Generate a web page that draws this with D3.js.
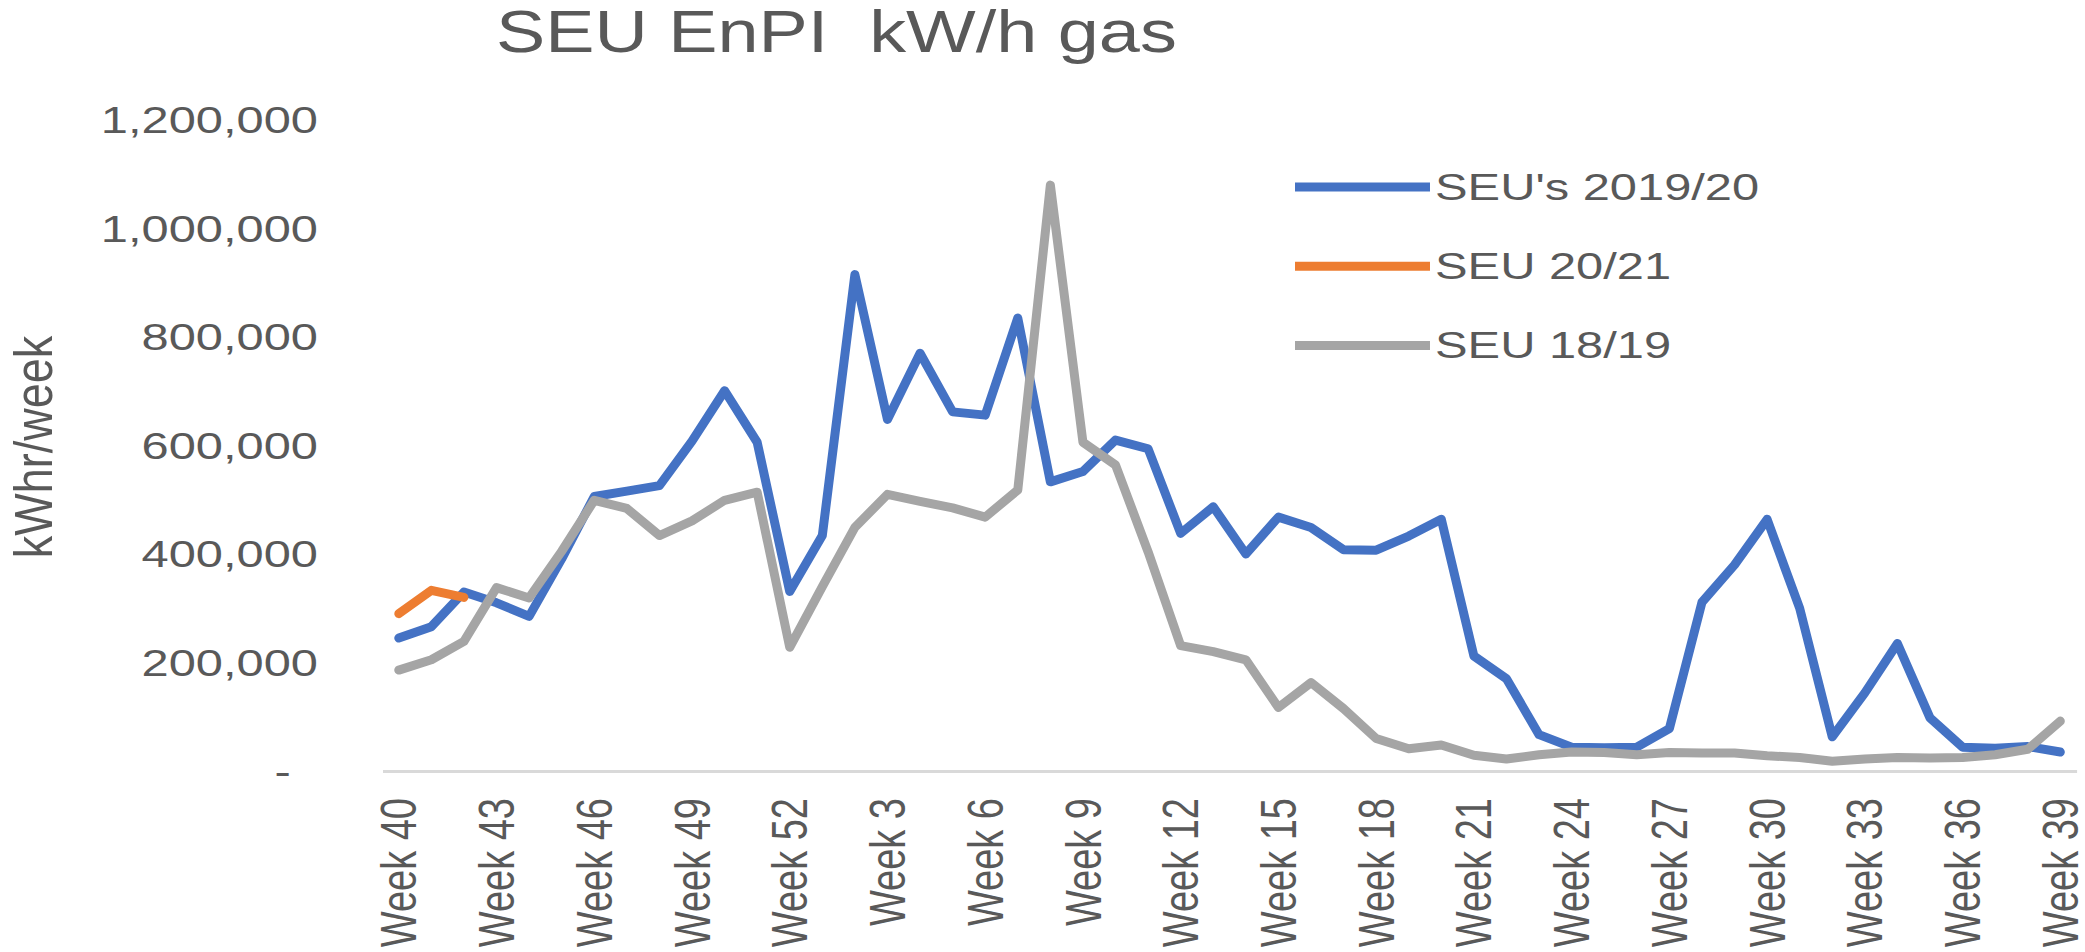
<!DOCTYPE html>
<html><head><meta charset="utf-8">
<script src="https://cdn.jsdelivr.net/npm/d3@7"></script>
<style>html,body{margin:0;padding:0;background:#fff;overflow:hidden}</style>
</head><body>
<svg id="chart" width="2085" height="952"></svg>
<script>
// ---- data ----
const weeks = [40,41,42,43,44,45,46,47,48,49,50,51,52,
  1,2,3,4,5,6,7,8,9,10,11,12,13,14,15,16,17,18,19,20,21,22,23,24,25,26,27,28,29,30,31,32,33,34,35,36,37,38,39];
const categories = weeks.map(w => "Week " + w);
const tickLabels = ["Week 40","Week 43","Week 46","Week 49","Week 52","Week 3","Week 6","Week 9","Week 12",
  "Week 15","Week 18","Week 21","Week 24","Week 27","Week 30","Week 33","Week 36","Week 39"];
const seu1920 = [245000,266000,330000,310000,285000,391000,506000,516000,526000,608000,701000,606000,331000,
  434000,915000,648000,770000,662000,656000,835000,533000,552000,610000,594000,438000,487000,400000,468000,
  449000,408000,407000,433000,464000,212000,170000,67000,44000,43000,44000,78000,311000,380000,464000,300000,
  63000,144000,235000,98000,44000,42000,45000,35000];
const seu2021 = [290000,333000,320000];
const seu1819 = [186000,205000,239000,338000,319000,405000,499000,484000,434000,461000,499000,514000,228000,
  340000,449000,510000,497000,485000,468000,518000,1080000,606000,564000,404000,231000,220000,205000,117000,
  163000,115000,60000,41000,48000,29000,22000,30000,35000,34000,30000,34000,33000,33000,28000,25000,18000,
  22000,25000,24000,25000,30000,40000,92000];
const yTicks = [0,200000,400000,600000,800000,1000000,1200000];
const seriesNames = ["SEU's 2019/20","SEU 20/21","SEU 18/19"];
const seriesColors = ["#4472C4","#ED7D31","#A5A5A5"];
const chartTitle = "SEU EnPI  kW/h gas";
const yTitle = "kWhr/week";

// ---- layout ----
const FONT = "'Liberation Sans', Arial, sans-serif";
const TXT = "#595959";
const SX = 1.32;           // horizontal stretch of the reference's text
const svg = d3.select("#chart");

const x = d3.scaleBand().domain(categories).range([382.5, 2076.6]).padding(0);
const cx = c => x(c) + x.bandwidth() / 2;
const y = d3.scaleLinear().domain([0, 1200000]).range([771, 120]);

// title
svg.append("text")
  .attr("transform", `translate(496,52) scale(1.23,1)`)
  .attr("font-family", FONT).attr("font-size", 60).attr("fill", TXT)
  .attr("xml:space", "preserve")
  .style("white-space", "pre")
  .text(chartTitle);

// y axis title
svg.append("text")
  .attr("transform", `translate(33,447) scale(1.2,1) rotate(-90)`)
  .attr("text-anchor", "middle").attr("dy", "0.35em")
  .attr("font-family", FONT).attr("font-size", 45).attr("fill", TXT)
  .text(yTitle);

// y axis
const fmt = d3.format(",");
const yAxis = svg.append("g").attr("transform", "translate(318,0)")
  .call(d3.axisLeft(y).tickValues(yTicks).tickSize(0).tickPadding(0)
    .tickFormat(d => d === 0 ? "-\u00a0\u00a0" : fmt(d)));
yAxis.select(".domain").remove();
yAxis.selectAll("text")
  .attr("x", 0).attr("dy", "0.35em")
  .attr("transform", `scale(${SX},1)`)
  .attr("font-family", FONT).attr("font-size", 37).attr("fill", TXT);

// x axis
const xAxis = svg.append("g").attr("transform", "translate(0,771)")
  .call(d3.axisBottom(x).tickValues(tickLabels).tickSize(0).tickSizeOuter(0));
xAxis.select(".domain").attr("stroke", "#D9D9D9").attr("stroke-width", 3);
xAxis.selectAll("text")
  .attr("x", 0).attr("y", 0).attr("dy", "0.35em")
  .attr("text-anchor", "end")
  .attr("transform", `translate(0,27) scale(${SX},1) rotate(-90)`)
  .attr("font-family", FONT).attr("font-size", 38).attr("fill", TXT);

// lines
const seriesData = [seu1920, seu2021, seu1819];
const line = d3.line()
  .defined(d => d.v != null)
  .x(d => cx(d.c))
  .y(d => y(d.v));
seriesData.forEach((vals, i) => {
  const pts = vals.map((v, k) => ({c: categories[k], v}));
  svg.append("path")
    .datum(pts)
    .attr("d", line)
    .attr("fill", "none")
    .attr("stroke", seriesColors[i])
    .attr("stroke-width", 9)
    .attr("stroke-linejoin", "round")
    .attr("stroke-linecap", "round");
});

// legend
const legend = svg.append("g").attr("transform", "translate(1295,187)");
seriesNames.forEach((name, i) => {
  const g = legend.append("g").attr("transform", `translate(0,${i * 79.2})`);
  g.append("line").attr("x1", 0).attr("x2", 135).attr("y1", 0).attr("y2", 0)
    .attr("stroke", seriesColors[i]).attr("stroke-width", 9);
  g.append("text")
    .attr("transform", `translate(140,0) scale(${SX},1)`)
    .attr("dy", "0.35em")
    .attr("font-family", FONT).attr("font-size", 37).attr("fill", TXT)
    .text(name);
});
</script>
</body></html>
